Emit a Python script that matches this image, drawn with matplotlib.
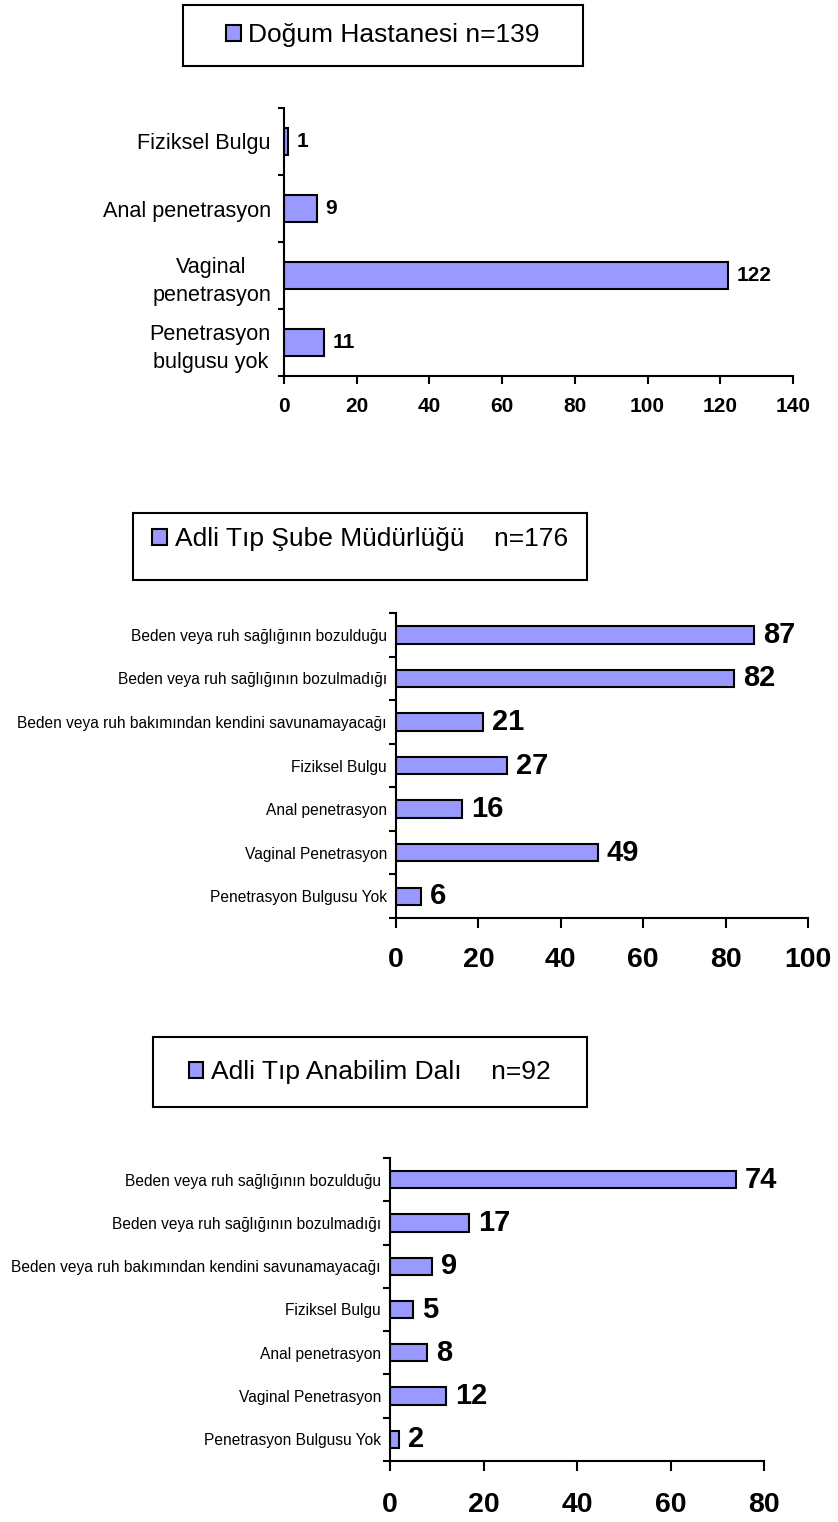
import matplotlib
matplotlib.use("Agg")
import matplotlib.pyplot as plt
from matplotlib.patches import Rectangle
from matplotlib.ticker import FixedLocator

plt.rcParams['font.family'] = ['Liberation Sans', 'DejaVu Sans']

# ---------------- data ----------------
cats1 = ["Fiziksel Bulgu", "Anal penetrasyon", "Vaginal\npenetrasyon", "Penetrasyon\nbulgusu yok"]
vals1 = [1, 9, 122, 11]
legend1 = "Doğum Hastanesi n=139"
xticks1 = [0, 20, 40, 60, 80, 100, 120, 140]

cats2 = ["Beden veya ruh sağlığının bozulduğu",
         "Beden veya ruh sağlığının bozulmadığı",
         "Beden veya ruh bakımından kendini savunamayacağı",
         "Fiziksel Bulgu",
         "Anal penetrasyon",
         "Vaginal Penetrasyon",
         "Penetrasyon Bulgusu Yok"]
vals2 = [87, 82, 21, 27, 16, 49, 6]
legend2 = "Adli Tıp Şube Müdürlüğü    n=176"
xticks2 = [0, 20, 40, 60, 80, 100]

cats3 = cats2
vals3 = [74, 17, 9, 5, 8, 12, 2]
legend3 = "Adli Tıp Anabilim Dalı    n=92"
xticks3 = [0, 20, 40, 60, 80]

BAR_COLOR = "#9999FF"
W, H = 838, 1522
fig = plt.figure(figsize=(W / 100, H / 100), dpi=100)


def px_rect(x0, y0, x1, y1):
    """pixel box (top-left origin) -> figure fraction [l, b, w, h]"""
    return [x0 / W, 1 - y1 / H, (x1 - x0) / W, (y1 - y0) / H]


def panel(box, cats, vals, xticks, cat_fs, val_fs, tick_fs, tick_len, tick_pad, ypad):
    ax = fig.add_axes(px_rect(*box))
    n = len(cats)
    pos = list(range(n))
    bars = ax.barh(pos, vals, height=0.4, color=BAR_COLOR, edgecolor="black", linewidth=1.5)
    ax.set_ylim(n - 0.5, -0.5)
    ax.set_xlim(xticks[0], xticks[-1])
    ax.set_yticks(pos)
    ax.set_yticklabels(cats, fontsize=cat_fs)
    for lab in ax.get_yticklabels():
        lab.set_multialignment("center")
        lab.set_linespacing(1.45)
    ax.yaxis.set_minor_locator(FixedLocator([i - 0.5 for i in range(n + 1)]))
    ax.tick_params(axis="y", which="major", length=0, pad=ypad)
    ax.tick_params(axis="y", which="minor", length=tick_len * 0.75, width=1.5, direction="out")
    ax.set_xticks(xticks)
    ax.set_xticklabels([str(t) for t in xticks], fontsize=tick_fs, fontweight="bold")
    ax.tick_params(axis="x", length=tick_len, width=1.5, pad=tick_pad, direction="out")
    for s in ["top", "right"]:
        ax.spines[s].set_visible(False)
    for s in ["left", "bottom"]:
        ax.spines[s].set_linewidth(1.5)
    for p, v in zip(pos, vals):
        ax.annotate(str(v), xy=(v, p), xytext=(6.5, 0), textcoords="offset points",
                    ha="left", va="center", fontsize=val_fs, fontweight="bold",
                    annotation_clip=False)
    ax.set_facecolor("none")
    return ax, bars


def legend_box(x0, y0, x1, y1, text_cy, handle, label):
    r = Rectangle((x0 / W, 1 - y1 / H), (x1 - x0) / W, (y1 - y0) / H,
                  transform=fig.transFigure, facecolor="white", edgecolor="black",
                  linewidth=1.5, zorder=0)
    fig.add_artist(r)
    fig.legend([handle], [label], loc="center",
               bbox_to_anchor=(((x0 + x1) / 2) / W, 1 - text_cy / H),
               frameon=False, fontsize=19, handlelength=0.55, handleheight=0.55,
               handletextpad=0.3, borderpad=0)


ax1, b1 = panel((284, 108, 793, 376), cats1, vals1, xticks1,
                cat_fs=15.6, val_fs=15, tick_fs=15, tick_len=5.8, tick_pad=9.5, ypad=9.4)
ax2, b2 = panel((396, 613, 808, 918), cats2, vals2, xticks2,
                cat_fs=11.2, val_fs=21, tick_fs=20.5, tick_len=7.2, tick_pad=13.5, ypad=6.5)
ax3, b3 = panel((390, 1158, 764, 1461), cats3, vals3, xticks3,
                cat_fs=11.2, val_fs=21, tick_fs=20.5, tick_len=7.2, tick_pad=15, ypad=6.5)

legend_box(183, 5, 583, 66, 35, b1, legend1)
legend_box(133, 513, 587, 580, 539, b2, legend2)
legend_box(153, 1037, 587, 1107, 1072, b3, legend3)

fig.savefig("out.png", dpi=100)
